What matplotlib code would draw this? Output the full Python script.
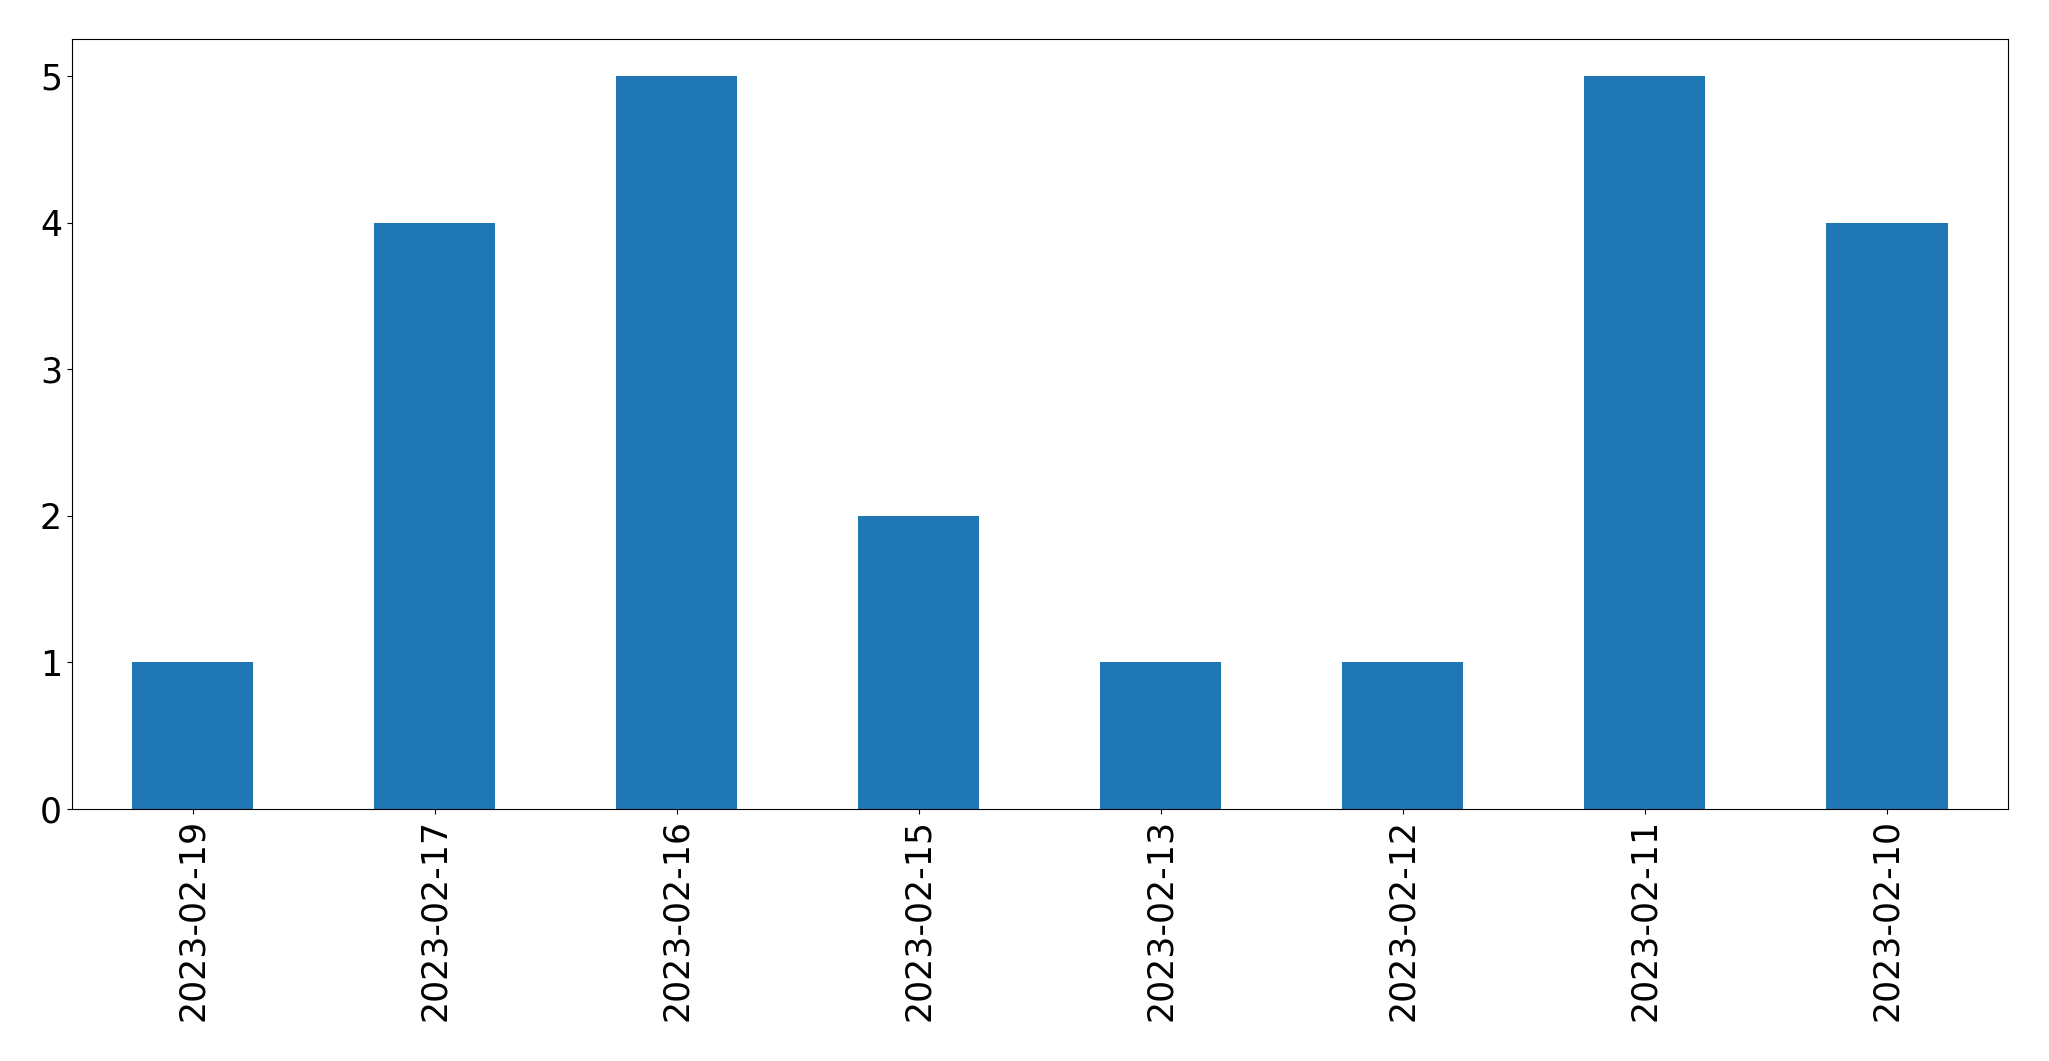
import pandas as pd
import matplotlib.pyplot as plt

# counts per date
dates = ["2023-02-19", "2023-02-17", "2023-02-16", "2023-02-15",
         "2023-02-13", "2023-02-12", "2023-02-11", "2023-02-10"]
counts = [1, 4, 5, 2, 1, 1, 5, 4]

s = pd.Series(counts, index=dates)

fig, ax = plt.subplots(figsize=(20.49, 10.61), dpi=100)
s.plot(kind="bar", ax=ax, color="#1f77b4", fontsize=25)
ax.set_xlabel("")
plt.subplots_adjust(left=0.035, right=0.980, top=0.963, bottom=0.2375)
plt.savefig("out.png", dpi=100)
